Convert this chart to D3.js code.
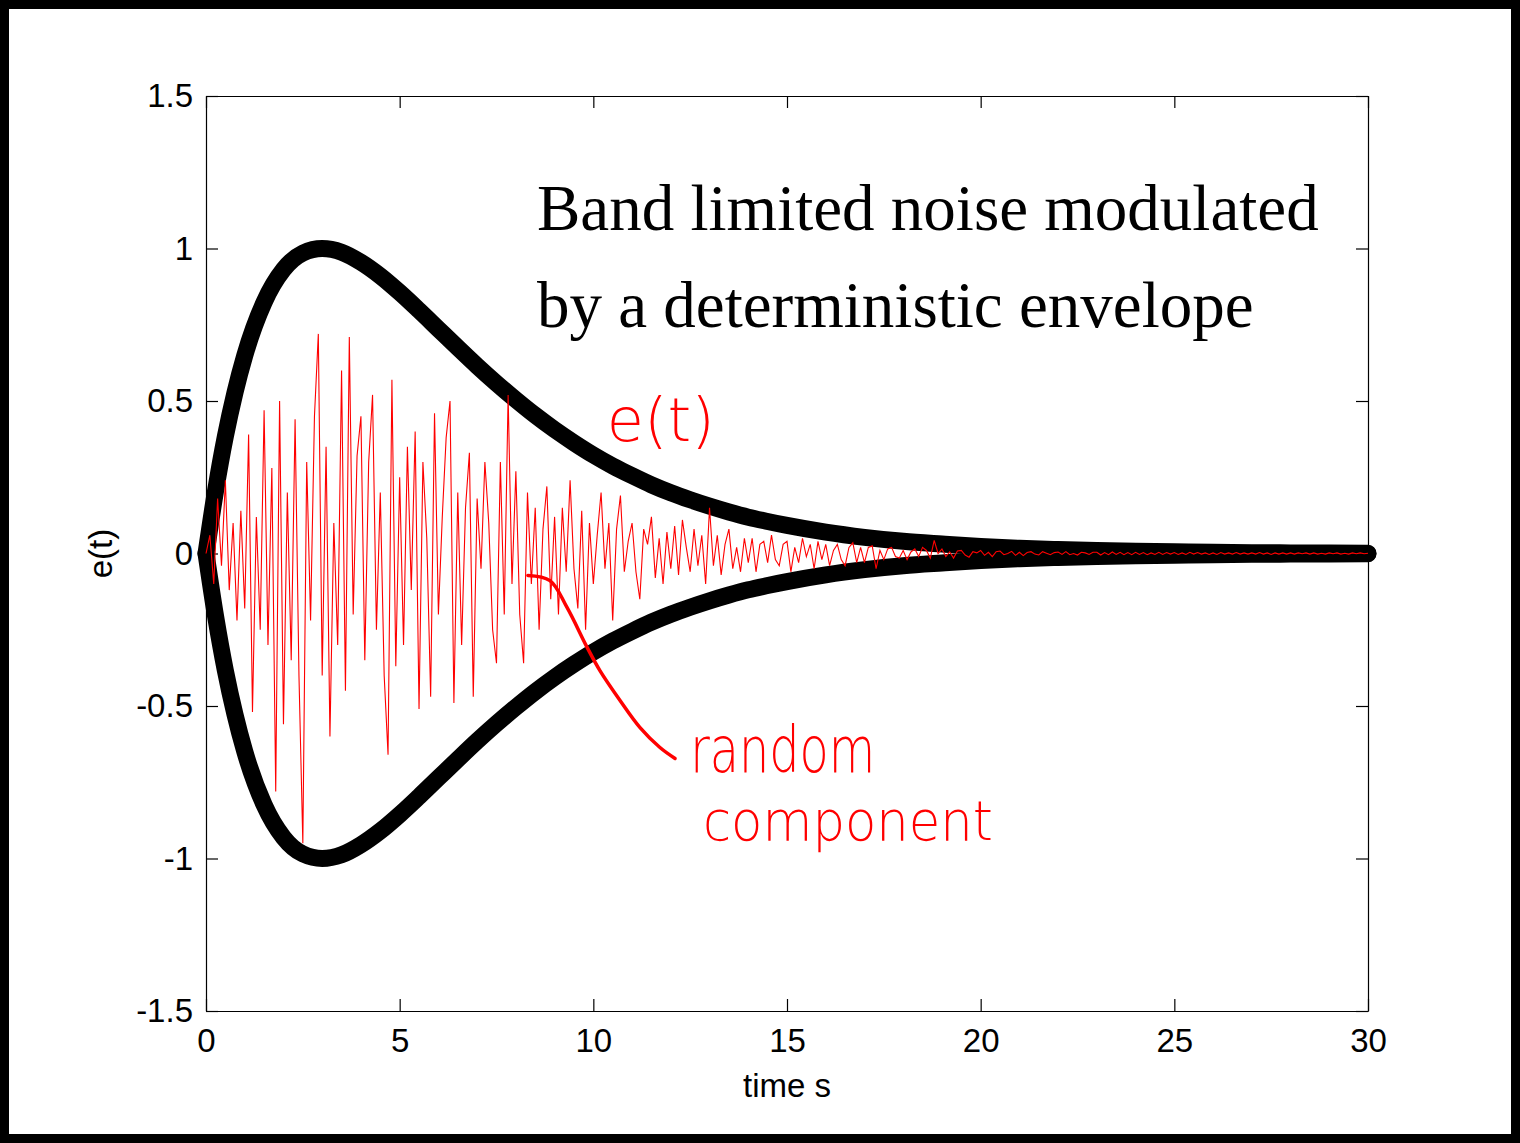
<!DOCTYPE html>
<html>
<head>
<meta charset="utf-8">
<script src="https://cdn.jsdelivr.net/npm/d3@7"></script>
<style>
  body { margin: 0; background: #fff; }
  svg { display: block; }
  .axis text { font-family: "Liberation Sans", Arial, sans-serif; font-size: 33px; fill: #000; }
  .axis path, .axis line { stroke: #000; stroke-width: 1.2; }
</style>
</head>
<body>
<svg id="chart"></svg>
<script>
// envelope e(t) (drawn as +e and -e)
const envTime = [0, 0.25, 0.5, 0.75, 1, 1.5, 2, 2.5, 3, 3.5, 4, 4.5, 5, 5.5, 6, 6.5, 7, 7.5, 8, 8.5,
  9, 9.5, 10, 10.5, 11, 11.5, 12, 12.5, 13, 13.5, 14, 14.5, 15, 16, 17, 18, 19, 20, 21, 22,
  23, 24, 25, 26, 27, 28, 29, 30];
const envValue = [0, 0.208, 0.384, 0.529, 0.649, 0.824, 0.931, 0.985, 1.0, 0.988, 0.955, 0.91, 0.856, 0.797, 0.736, 0.675, 0.615, 0.558, 0.504, 0.453,
  0.406, 0.363, 0.323, 0.287, 0.255, 0.225, 0.199, 0.176, 0.155, 0.136, 0.119, 0.105, 0.092, 0.07, 0.053, 0.04, 0.031, 0.023, 0.017, 0.013,
  0.0098, 0.0073, 0.0054, 0.0039, 0.0028, 0.002, 0.0014, 0.001];

// random component, one sample every 0.1 s starting at t = 0
const noiseStep = 0.1;
const noiseValue = [
  0, 0.06, -0.1, 0.18, -0.04, 0.24, -0.12, 0.1, -0.22, 0.14,
  -0.18, 0.39, -0.52, 0.12, -0.25, 0.47, -0.3, 0.28, -0.78, 0.5,
  -0.56, 0.2, -0.35, 0.44, -0.4, -0.95, 0.3, -0.22, 0.45, 0.72,
  -0.4, 0.35, -0.6, 0.1, -0.3, 0.6, -0.45, 0.71, -0.2, 0.32,
  0.45, -0.35, 0.3, 0.52, -0.25, 0.2, -0.4, -0.66, 0.57, -0.37,
  0.25, -0.3, 0.35, -0.12, 0.4, -0.51, 0.3, 0.05, -0.47, 0.46,
  -0.2, 0.12, 0.38, 0.5, -0.49, 0.2, -0.3, 0.15, 0.33, -0.47,
  0.18, -0.05, 0.3, 0.1, -0.25, -0.36, 0.3, -0.2, 0.52, -0.1,
  0.27, -0.2, -0.36, 0.2, -0.1, 0.15, -0.25, 0.08, 0.22, -0.15,
  0.12, -0.2, 0.15, -0.06, 0.24, -0.05, -0.18, 0.14, -0.25, 0.1,
  -0.1, 0.06, 0.2, -0.05, 0.1, -0.22, 0.08, 0.19, -0.06, 0.04,
  0.1, -0.06, -0.15, 0.08, 0.03, 0.12, -0.08, 0.05, -0.1, 0.07,
  -0.05, 0.09, -0.07, 0.11, 0.02, -0.06, 0.08, -0.04, 0.06, -0.1,
  0.15, -0.04, 0.06, -0.07, 0.03, 0.08, -0.05, 0.02, -0.06, 0.05,
  -0.03, 0.05, -0.06, 0.03, 0.04, -0.03, 0.06, -0.02, -0.04, 0.03,
  0.04, -0.06, 0.02, -0.03, 0.05, -0.01, 0.03, -0.05, 0.04, -0.02,
  0.03, -0.04, 0.01, 0.03, -0.02, -0.04, 0.02, 0.035, -0.03, 0.02,
  -0.03, 0.02, 0.025, -0.05, 0.01, -0.02, 0.015, 0.02, -0.01, -0.015,
  0.01, -0.02, 0.005, 0.015, -0.01, 0.02, 0.01, -0.015, 0.043, 0.0,
  0.015, -0.01, 0.005, -0.015, 0.008, 0.01, -0.005, -0.012, 0.006, 0.002,
  0.01, -0.006, 0.004, -0.01, 0.006, 0.008, -0.004, 0.0, 0.007, -0.006,
  0.004, -0.007, 0.003, 0.006, -0.002, -0.005, 0.006, 0.001, -0.004, 0.003,
  0.005, -0.003, 0.006, -0.004, 0.0, -0.005, 0.004, 0.002, -0.003, 0.004,
  0.004, -0.005, 0.003, -0.004, 0.005, -0.003, 0.004, -0.004, 0.003, -0.004,
  0.004, -0.003, 0.003, -0.004, 0.002, -0.003, 0.004, -0.003, 0.003, -0.002,
  0.003, -0.003, 0.002, -0.003, 0.004, -0.002, 0.003, -0.002, 0.002, -0.003,
  0.002, -0.003, 0.003, -0.002, 0.002, -0.002, 0.003, -0.002, 0.002, -0.002,
  0.002, -0.002, 0.003, -0.002, 0.002, -0.003, 0.002, -0.002, 0.002, -0.002,
  0.002, -0.002, 0.002, -0.001, 0.002, -0.002, 0.002, -0.002, 0.001, -0.002,
  0.002, -0.001, 0.002, -0.002, 0.001, -0.002, 0.002, -0.001, 0.002, -0.001,
  0.001
];

const xTicks = [0, 5, 10, 15, 20, 25, 30];
const yTicks = [-1.5, -1, -0.5, 0, 0.5, 1, 1.5];
const titleLines = ['Band limited noise modulated', 'by a deterministic envelope'];

// hand-drawn notes (data units)
const leaderCurve = [[8.31, -0.072], [8.88, -0.089], [9.32, -0.177], [9.84, -0.308], [10.17, -0.384],
  [10.69, -0.482], [11.2, -0.57], [11.72, -0.636], [12.11, -0.672]];
const notes = [
  { text: 'e(t)', t: 10.35, v: 0.37, size: 60, len: 108 },
  { text: 'random', t: 12.5, v: -0.717, size: 64, len: 185 },
  { text: 'component', t: 12.83, v: -0.94, size: 56, len: 290 }
];

const W = 1520, H = 1143;
const margin = { top: 96, right: 152, bottom: 132, left: 206 };
const width = W - margin.left - margin.right,
  height = H - margin.top - margin.bottom;

const svg = d3.select('#chart')
  .attr('width', W)
  .attr('height', H);

svg.append('rect')
  .attr('width', W).attr('height', H)
  .attr('fill', '#fff');

// outer frame
svg.append('rect')
  .attr('x', 4.5).attr('y', 4.5)
  .attr('width', W - 9).attr('height', H - 9)
  .attr('fill', 'none')
  .attr('stroke', '#000')
  .attr('stroke-width', 9);

const g = svg.append('g')
  .attr('transform', `translate(${margin.left},${margin.top})`);

const x = d3.scaleLinear().domain([0, 30]).range([0, width]);
const y = d3.scaleLinear().domain([-1.5, 1.5]).range([height, 0]);

// axes, ticks point inwards on all four sides
g.append('g')
  .attr('class', 'axis')
  .attr('transform', `translate(0,${height})`)
  .call(d3.axisBottom(x).tickValues(xTicks).tickSizeInner(-12).tickSizeOuter(0).tickPadding(18)
    .tickFormat(d => String(d)));

g.append('g')
  .attr('class', 'axis')
  .call(d3.axisTop(x).tickValues(xTicks).tickSizeInner(-12).tickSizeOuter(0).tickFormat(''));

g.append('g')
  .attr('class', 'axis')
  .call(d3.axisLeft(y).tickValues(yTicks).tickSizeInner(-12).tickSizeOuter(0).tickPadding(13)
    .tickFormat(d => String(d)));

g.append('g')
  .attr('class', 'axis')
  .attr('transform', `translate(${width},0)`)
  .call(d3.axisRight(y).tickValues(yTicks).tickSizeInner(-12).tickSizeOuter(0).tickFormat(''));

// axis labels
g.append('text')
  .attr('x', width / 2)
  .attr('y', height + 86)
  .attr('text-anchor', 'middle')
  .style('font-family', '"Liberation Sans", Arial, sans-serif')
  .style('font-size', '33px')
  .text('time s');

g.append('text')
  .attr('transform', `translate(${-94},${height / 2}) rotate(-90)`)
  .attr('text-anchor', 'middle')
  .style('font-family', '"Liberation Sans", Arial, sans-serif')
  .style('font-size', '33px')
  .text('e(t)');

// envelope +e(t) and -e(t)
const env = envTime.map((t, i) => ({ t: t, v: envValue[i] }));
const envLine = d3.line()
  .x(d => x(d.t))
  .curve(d3.curveMonotoneX);

[1, -1].forEach(function (sign) {
  g.append('path')
    .datum(env)
    .attr('fill', 'none')
    .attr('stroke', '#000')
    .attr('stroke-width', 17)
    .attr('stroke-linecap', 'round')
    .attr('stroke-linejoin', 'round')
    .attr('d', envLine.y(d => y(sign * d.v)));
});

// random component
g.append('path')
  .datum(noiseValue)
  .attr('fill', 'none')
  .attr('stroke', '#ff0000')
  .attr('stroke-width', 1.1)
  .attr('d', d3.line()
    .x((d, i) => x(i * noiseStep))
    .y(d => y(d)));

// title
g.selectAll('.title')
  .data(titleLines)
  .join('text')
  .attr('class', 'title')
  .attr('x', 331)
  .attr('y', (d, i) => 134 + i * 97)
  .style('font-family', '"Liberation Serif", "Times New Roman", serif')
  .style('font-size', '65px')
  .attr('fill', '#000')
  .text(d => d);

// red hand-written notes
g.append('path')
  .datum(leaderCurve)
  .attr('fill', 'none')
  .attr('stroke', '#ff0000')
  .attr('stroke-width', 3.5)
  .attr('stroke-linecap', 'round')
  .attr('d', d3.line()
    .x(d => x(d[0]))
    .y(d => y(d[1]))
    .curve(d3.curveCatmullRom));

g.selectAll('.note')
  .data(notes)
  .join('text')
  .attr('class', 'note')
  .attr('x', d => x(d.t))
  .attr('y', d => y(d.v))
  .attr('textLength', d => d.len)
  .attr('lengthAdjust', 'spacingAndGlyphs')
  .style('font-family', '"DejaVu Sans", sans-serif')
  .style('font-weight', 300)
  .style('font-size', d => d.size + 'px')
  .attr('fill', '#ff0000')
  .text(d => d.text);
</script>
</body>
</html>
